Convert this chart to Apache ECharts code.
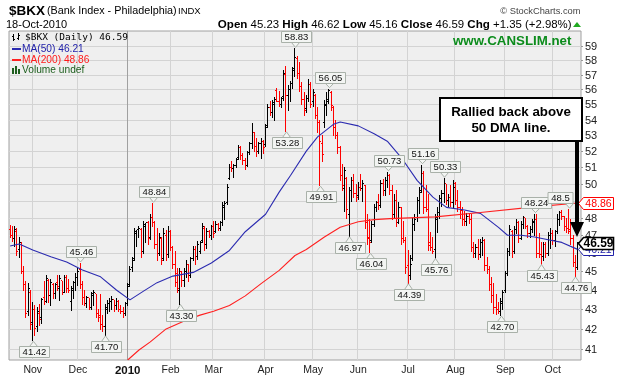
<!DOCTYPE html>
<html><head><meta charset="utf-8">
<script src="https://cdn.jsdelivr.net/npm/echarts@6/dist/echarts.min.js"></script>
<style>html,body{margin:0;padding:0;background:#fff}#c{width:617px;height:380px}</style>
</head><body><div id="c"></div>
<script>
// ---------- data ----------
const holidays = ['2009-11-26','2009-12-25','2010-01-01','2010-01-18','2010-02-15','2010-04-02','2010-05-31','2010-07-05','2010-09-06'];
const firstDay = '2009-10-19';
const lastDay = '2010-10-18';
// daily [open, high, low, close]
const ohlc = [
[47.3,47.6,46.9,47.0],[47.0,47.5,46.7,46.8],[46.8,47.5,46.4,47.3],[47.2,47.4,45.9,46.1],[46.2,46.9,45.8,46.6],
[46.5,46.6,44.9,45.0],[45.0,45.3,44.0,44.3],[44.3,44.5,42.6,42.8],[42.9,44.4,42.7,44.1],[43.9,44.0,42.0,42.2],
[42.3,43.4,41.42,43.0],[43.0,43.2,41.7,42.0],[42.1,43.1,41.9,42.9],[42.8,43.3,42.2,42.5],[42.6,43.6,42.3,43.5],
[43.6,44.5,43.3,43.4],[43.4,44.8,43.4,44.6],[44.5,44.6,43.4,43.7],[43.7,44.6,43.2,44.4],[44.3,44.4,43.6,43.8],
[43.8,44.4,43.6,44.3],[44.4,44.8,44.0,44.2],[44.1,44.8,43.5,44.6],[44.5,44.5,43.8,43.9],[43.9,44.8,43.9,44.7],
[44.7,44.8,43.9,44.1],[44.1,44.6,43.9,44.0],[43.4,44.2,42.96,44.1],[44.0,44.5,43.6,44.4],[44.4,44.9,44.0,44.7],
[44.7,45.2,44.3,45.0],[45.1,45.46,44.1,44.3],[44.3,44.5,43.3,43.6],[43.6,44.0,43.2,43.3],[43.3,43.7,43.1,43.6],
[43.6,43.6,43.0,43.1],[43.1,43.9,43.0,43.8],[43.7,44.0,43.2,43.9],[43.8,43.8,42.6,42.8],[42.8,43.0,42.4,42.6],
[42.7,43.8,42.0,42.2],[42.2,42.7,41.9,42.1],[42.1,43.3,41.70,43.1],[43.0,43.5,42.8,43.3],[43.3,43.6,42.9,43.4],
[43.4,43.7,43.0,43.5],[43.5,43.5,42.9,43.2],[43.2,43.6,43.0,43.4],[43.4,43.5,42.9,43.0],[43.0,43.2,42.8,42.9],
[42.9,43.1,42.6,42.8],[42.8,43.4,42.7,43.3],[43.3,44.4,43.2,44.2],[44.3,45.3,44.2,45.1],[45.2,45.8,45.0,45.6],
[45.7,47.4,45.6,47.2],[47.1,47.3,46.4,47.3],[47.3,47.5,46.9,47.4],[47.3,47.4,45.8,46.1],[46.1,47.8,46.0,47.6],
[47.5,47.7,46.6,47.7],[47.7,47.8,46.5,46.8],[46.9,48.2,46.8,48.0],[48.0,48.84,47.5,47.7],[47.7,47.8,46.3,46.5],
[46.5,47.4,45.6,46.0],[46.0,47.1,45.9,46.9],[46.8,46.9,45.4,45.6],[45.7,47.4,45.6,47.1],[47.0,47.3,45.6,45.9],
[45.9,47.5,45.8,47.2],[47.2,47.3,46.2,46.3],[46.3,46.4,45.2,45.4],[45.4,46.1,44.2,44.4],[44.9,45.2,43.9,44.1],
[44.0,45.2,43.30,45.0],[45.0,45.0,44.2,44.5],[44.5,45.2,44.2,45.0],[45.0,45.6,44.7,45.4],[45.4,45.4,44.5,44.8],
[44.8,45.8,44.7,45.7],[45.7,46.4,45.6,46.2],[46.2,46.4,45.4,45.8],[45.8,46.7,45.7,46.5],[46.1,46.7,46.0,46.6],
[46.7,47.7,46.6,47.5],[47.4,47.5,46.2,46.5],[46.5,47.4,46.3,47.2],[47.2,47.3,46.9,47.0],[47.0,47.6,46.8,47.5],
[47.5,47.8,46.9,47.1],[47.2,47.8,47.2,47.6],[47.6,47.7,47.3,47.4],[47.4,47.8,47.3,47.7],[47.7,48.9,47.6,48.7],
[48.6,49.0,47.9,48.8],[48.9,50.0,48.8,49.8],[50.3,51.2,50.3,51.0],[51.0,51.4,50.8,50.9],[50.9,51.2,50.4,51.1],
[51.1,51.6,51.0,51.5],[51.6,52.4,51.5,52.2],[52.2,52.3,51.5,51.7],[51.7,51.9,51.2,51.4],[51.4,51.6,50.9,51.1],
[51.1,52.0,51.1,51.9],[51.9,52.6,51.8,52.5],[52.5,53.8,52.2,53.2],[53.2,53.2,52.0,52.3],[52.3,52.8,51.7,52.0],
[52.0,52.6,51.9,52.5],[52.5,52.8,51.6,52.6],[52.6,52.7,51.9,52.2],[52.4,53.7,52.3,53.5],[53.6,55.0,53.5,54.8],
[54.8,55.2,54.3,54.5],[54.5,55.3,54.2,55.1],[55.0,55.5,54.0,55.3],[55.9,56.1,55.2,55.2],[55.2,55.9,54.9,55.0],
[55.0,55.5,54.8,55.4],[55.5,57.3,55.3,57.1],[57.0,57.6,53.28,55.6],[55.6,56.3,54.6,56.0],[56.0,56.6,55.2,56.4],
[56.4,57.5,56.1,57.3],[57.4,58.83,56.9,58.2],[58.1,58.3,56.8,57.1],[57.1,57.9,55.9,56.2],[56.2,56.5,55.0,55.3],
[55.3,55.8,54.3,54.6],[54.7,55.6,54.5,55.4],[55.4,56.7,55.2,56.3],[56.3,56.5,54.8,55.0],[55.2,56.0,54.9,55.8],
[55.6,55.7,54.1,54.3],[54.3,54.8,53.2,53.8],[53.8,54.0,49.91,52.6],[52.5,53.0,51.4,51.8],[53.8,55.3,53.5,55.0],
[54.9,55.8,54.3,55.2],[55.3,56.05,55.1,55.9],[55.8,55.9,54.6,54.9],[54.8,54.9,53.0,53.5],[53.5,54.0,52.8,53.0],
[53.0,53.2,51.9,52.2],[52.2,52.3,50.2,50.5],[50.5,51.2,49.6,49.9],[49.7,51.0,48.4,50.8],[50.3,50.4,48.0,48.5],
[48.2,49.8,46.97,49.6],[49.6,50.4,49.0,50.2],[50.2,50.6,49.2,49.4],[49.4,50.0,49.0,49.2],[49.3,50.1,49.1,49.8],
[49.8,50.6,49.6,49.7],[49.7,50.2,49.0,50.0],[49.9,49.9,47.4,47.7],[47.7,48.2,46.5,46.8],[46.9,47.9,46.04,46.6],
[46.7,47.8,46.6,47.6],[47.6,48.8,47.5,48.6],[48.6,49.0,48.4,48.9],[48.9,49.4,48.5,48.7],[48.7,50.2,48.6,50.0],
[50.0,50.3,49.3,49.6],[49.6,50.4,49.3,50.2],[50.2,50.73,49.8,50.5],[50.5,50.6,49.4,49.6],[49.6,49.9,47.9,48.2],
[48.2,49.4,48.0,49.0],[49.0,49.6,47.5,47.7],[47.7,48.9,47.7,48.6],[48.6,48.6,46.5,46.8],[46.8,47.8,46.6,46.7],
[46.7,46.9,44.9,45.2],[45.3,46.2,44.39,44.8],[44.8,45.9,44.6,45.4],[45.7,48.0,45.6,47.6],[47.6,48.2,47.3,47.9],
[48.0,49.2,47.8,49.0],[49.0,49.8,48.3,49.5],[49.6,51.16,49.5,50.6],[50.6,50.8,48.3,48.6],[48.6,49.9,48.4,48.5],
[48.5,49.4,46.2,46.4],[46.6,47.2,46.2,46.3],[46.3,46.9,46.0,46.1],[46.2,48.2,45.76,48.0],[47.9,48.6,47.2,48.3],
[48.3,49.3,48.0,49.1],[49.1,49.6,48.7,49.4],[49.4,50.33,48.9,50.0],[50.0,50.0,48.8,49.0],[49.0,49.4,48.7,49.2],
[49.2,49.9,48.7,48.9],[48.9,50.2,48.6,49.8],[50.0,50.1,48.8,49.0],[49.0,49.6,48.4,48.6],[48.6,49.0,48.0,48.4],
[48.4,48.6,47.6,47.9],[47.9,48.4,47.6,47.8],[47.8,48.3,47.6,48.1],[48.1,48.3,47.7,47.9],[47.9,48.2,46.1,46.3],
[46.3,46.6,45.8,46.0],[46.0,46.5,45.8,46.3],[46.3,46.8,45.7,45.9],[45.9,46.8,45.8,46.6],[46.6,46.9,45.9,46.7],
[46.7,46.8,45.1,45.3],[45.3,45.8,44.9,45.1],[45.1,45.3,44.0,44.3],[44.3,44.7,43.4,43.7],[43.7,44.4,42.8,43.1],
[43.1,43.8,42.75,43.0],[43.0,43.4,42.8,42.9],[42.9,43.6,42.70,43.4],[43.3,44.0,43.0,43.9],[44.0,45.0,43.9,44.9],
[44.9,46.3,44.8,46.1],[46.1,47.6,45.9,47.3],[47.2,47.3,45.8,46.1],[46.1,47.5,46.0,47.3],[47.3,47.9,47.1,47.7],
[47.7,47.8,46.6,46.8],[46.8,47.8,46.8,47.6],[47.6,48.1,47.4,48.0],[48.0,48.0,47.4,47.5],[47.5,47.6,46.9,47.1],
[47.1,47.5,46.9,47.3],[47.3,47.9,47.2,47.8],[47.7,48.24,47.0,47.9],[47.9,48.2,45.8,46.0],[46.0,47.1,45.8,45.9],
[45.9,46.6,45.43,45.8],[45.8,46.6,45.6,46.5],[46.5,46.6,45.8,46.0],[46.0,47.2,45.9,47.0],[47.0,47.4,46.3,47.1],
[47.1,47.3,46.5,46.7],[46.7,47.3,46.4,47.2],[47.2,48.2,47.1,47.9],[47.9,48.4,47.6,48.3],[48.3,48.45,47.9,48.1],
[48.1,48.1,47.3,47.5],[47.5,48.0,47.2,47.4],[47.4,48.5,47.1,47.2],[47.3,47.9,46.5,46.8],[46.8,47.0,45.3,45.5],
[45.5,45.9,44.76,45.24],[45.23,46.62,45.16,46.59]
];
// moving averages: [bar index, value]
const ma50Points = [[0,46.40],[4,46.51],[10,46.18],[18,45.80],[25,45.52],[32,45.08],[40,44.71],[47,44.01],[53,43.49],[59,43.95],[65,44.40],[72,44.75],[81,44.95],[89,45.46],[97,46.15],[104,47.2],[113,48.2],[119,49.5],[124,50.5],[131,52.0],[136,52.9],[143,53.7],[146,53.85],[154,53.6],[161,53.1],[167,52.6],[173,51.6],[180,50.2],[187,49.2],[193,48.6],[201,48.45],[208,48.25],[216,47.45],[220,47.0],[226,47.0],[232,46.9],[238,46.75],[244,46.6],[251,46.21]];
const ma200Points = [[52,40.46],[57,40.95],[62,41.35],[69,42.0],[78,42.45],[84,42.7],[90,42.9],[97,43.2],[104,43.7],[111,44.35],[119,45.06],[126,45.87],[131,46.2],[139,46.9],[146,47.45],[154,47.77],[161,47.89],[168,47.95],[188,48.05],[208,48.3],[232,48.63],[251,48.86]];
const peakLabels = [[31,'45.46'],[63,'48.84'],[126,'58.83'],[141,'56.05'],[167,'50.73'],[182,'51.16'],[192,'50.33'],[232,'48.24'],[247,'48.5']];
const troughLabels = [[10,'41.42'],[42,'41.70'],[75,'43.30'],[122,'53.28'],[137,'49.91'],[150,'46.97'],[159,'46.04'],[176,'44.39'],[188,'45.76'],[217,'42.70'],[235,'45.43'],[250,'44.76']];
const priceTicks = [41,42,43,44,45,46,47,48,49,50,51,52,53,54,55,56,57,58,59];
const monthAbbr = ['Jan','Feb','Mar','Apr','May','Jun','Jul','Aug','Sep','Oct','Nov','Dec'];
const lastTags = [['48.86','#ff0000'],['46.21','#2222aa'],['46.59','#000000']];

// ---------- build ----------
const dates = [];
for (let t = Date.parse(firstDay + 'T00:00:00Z'); t <= Date.parse(lastDay + 'T00:00:00Z'); t += 86400000) {
  const d = new Date(t), wd = d.getUTCDay(), s = d.toISOString().slice(0, 10);
  if (wd !== 0 && wd !== 6 && holidays.indexOf(s) < 0) dates.push(s);
}
const categories = dates.concat(['']);
const monthStart = dates.map((s, i) => i > 0 && s.slice(5, 7) !== dates[i - 1].slice(5, 7));
const monthIdx = [];
monthStart.forEach((m, i) => { if (m) monthIdx.push([i, 50]); });
const valueLabels = peakLabels.map(a => [a[0], a[1], 1]).concat(troughLabels.map(a => [a[0], a[1], -1]));

const F = '"Liberation Sans", Arial, sans-serif';
const chart = echarts.init(document.getElementById('c'), null, {renderer: 'canvas'});

function onTop(list, z) { return list.map(e => Object.assign({z: z}, e)); }

const legendEls = onTop([
  {type: 'line', shape: {x1: 13.5, y1: 34, x2: 13.5, y2: 41}, style: {stroke: '#000', lineWidth: 1}},
  {type: 'line', shape: {x1: 12, y1: 36.5, x2: 13.5, y2: 36.5}, style: {stroke: '#000', lineWidth: 1}},
  {type: 'line', shape: {x1: 13.5, y1: 39.5, x2: 15, y2: 39.5}, style: {stroke: '#000', lineWidth: 1}},
  {type: 'line', shape: {x1: 18.5, y1: 33, x2: 18.5, y2: 40}, style: {stroke: '#000', lineWidth: 1}},
  {type: 'line', shape: {x1: 17, y1: 38.5, x2: 18.5, y2: 38.5}, style: {stroke: '#000', lineWidth: 1}},
  {type: 'line', shape: {x1: 18.5, y1: 35.5, x2: 20, y2: 35.5}, style: {stroke: '#000', lineWidth: 1}},
  {type: 'text', x: 25, y: 37.5, style: {text: '$BKX (Daily) 46.59', font: '9.5px "DejaVu Sans Mono", monospace', fill: '#000', verticalAlign: 'middle'}},
  {type: 'rect', shape: {x: 12, y: 48, width: 9, height: 2}, style: {fill: '#2b2bb0'}},
  {type: 'text', x: 22, y: 49.5, style: {text: 'MA(50) 46.21', font: '10.2px ' + F, fill: '#2222aa', verticalAlign: 'middle'}},
  {type: 'rect', shape: {x: 12, y: 59, width: 9, height: 2}, style: {fill: '#ff2020'}},
  {type: 'text', x: 22, y: 60.5, style: {text: 'MA(200) 48.86', font: '10.2px ' + F, fill: '#ff1a1a', verticalAlign: 'middle'}},
  {type: 'rect', shape: {x: 12, y: 68, width: 2, height: 6}, style: {fill: '#1d5e1d'}},
  {type: 'rect', shape: {x: 15, y: 66, width: 2, height: 8}, style: {fill: '#1d5e1d'}},
  {type: 'rect', shape: {x: 18, y: 69, width: 2, height: 5}, style: {fill: '#1d5e1d'}},
  {type: 'text', x: 22, y: 70.5, style: {text: 'Volume undef', font: '10.2px ' + F, fill: '#1d5e1d', verticalAlign: 'middle'}},
  {type: 'text', x: 453, y: 41, style: {text: 'www.CANSLIM.net', font: 'bold 13.3px ' + F, fill: '#0c8c1c', verticalAlign: 'middle'}}
], 20);

const noteEls = onTop([
  {type: 'rect', shape: {x: 440, y: 98, width: 142, height: 43}, style: {fill: '#ffffff', stroke: '#000', lineWidth: 2}},
  {type: 'rect', shape: {x: 575, y: 141, width: 4, height: 83}, style: {fill: '#000'}},
  {type: 'polygon', shape: {points: [[570, 222], [584, 222], [577, 237]]}, style: {fill: '#000'}}
], 30).concat(onTop([
  {type: 'text', x: 511, y: 112.5, style: {text: 'Rallied back above', font: 'bold 13.3px ' + F, fill: '#000', align: 'center', verticalAlign: 'middle'}},
  {type: 'text', x: 511, y: 128.5, style: {text: '50 DMA line.', font: 'bold 13.3px ' + F, fill: '#000', align: 'center', verticalAlign: 'middle'}}
], 31));

const option = {
  animation: false,
  backgroundColor: '#ffffff',
  grid: {left: 9, right: 36, top: 31, bottom: 20, show: true, backgroundColor: '#efefef', borderColor: '#a0a0a0', borderWidth: 1},
  xAxis: {
    type: 'category', data: categories, boundaryGap: true,
    axisLine: {show: false}, axisTick: {show: false}, splitLine: {show: false},
    axisLabel: {
      interval: (i) => !!monthStart[i],
      formatter: (v) => { const m = +v.slice(5, 7); return m === 1 ? '{y|' + v.slice(0, 4) + '}' : monthAbbr[m - 1]; },
      fontSize: 10.5, fontFamily: F, color: '#222', margin: 5,
      rich: {y: {fontWeight: 'bold', fontSize: 11.5, fontFamily: F, color: '#111'}}
    }
  },
  yAxis: {type: 'log', logBase: 10, min: 40.46, max: 60.07, show: false},
  series: [
    { // horizontal grid lines + right-side price labels
      type: 'custom', z: 1, silent: true, clip: false,
      data: priceTicks.map(v => [0, v]), encode: {x: 0, y: 1},
      renderItem: (params, api) => {
        const cs = params.coordSys;
        const y = Math.round(api.coord([0, api.value(1)])[1]) + 0.5;
        const xr = cs.x + cs.width;
        return {type: 'group', children: [
          {type: 'line', shape: {x1: cs.x, y1: y, x2: xr, y2: y}, style: {stroke: '#d3d3d3', lineWidth: 1}},
          {type: 'line', shape: {x1: xr, y1: y, x2: xr + 2, y2: y}, style: {stroke: '#999', lineWidth: 1}},
          {type: 'text', x: xr + 4, y: y, style: {text: String(api.value(1)), fill: '#222', font: '11px ' + F, align: 'left', verticalAlign: 'middle'}}
        ]};
      }
    },
    { // vertical month grid lines
      type: 'custom', z: 1, silent: true, clip: true,
      data: monthIdx, encode: {x: 0, y: 1},
      renderItem: (params, api) => {
        const cs = params.coordSys;
        const i = api.value(0);
        const bw = api.size([1, 0])[0];
        const x = Math.round(api.coord([i, 50])[0] - bw / 2) + 0.5;
        const isYear = dates[i].slice(5, 7) === '01';
        return {type: 'line', shape: {x1: x, y1: cs.y, x2: x, y2: cs.y + cs.height}, style: {stroke: isYear ? '#a0a0a0' : '#d3d3d3', lineWidth: 1}};
      }
    },
    { // OHLC bars
      type: 'custom', name: '$BKX', z: 3, clip: true,
      data: ohlc.map((r, i) => [i, r[0], r[1], r[2], r[3], (i === 0 ? r[3] < r[0] : r[3] < ohlc[i - 1][3]) ? 1 : 0]),
      encode: {x: 0, y: [1, 2, 3, 4]},
      renderItem: (params, api) => {
        const i = api.value(0);
        const o = api.coord([i, api.value(1)]), h = api.coord([i, api.value(2)]);
        const l = api.coord([i, api.value(3)]), c = api.coord([i, api.value(4)]);
        const k = Math.round(h[0] - 0.5);
        const col = api.value(5) ? '#ff0000' : '#000000';
        const st = {stroke: col, lineWidth: 1};
        const yo = Math.round(o[1] - 0.5) + 0.5, yc = Math.round(c[1] - 0.5) + 0.5;
        return {type: 'group', children: [
          {type: 'line', shape: {x1: k + 0.5, y1: Math.round(h[1]), x2: k + 0.5, y2: Math.round(l[1]) + 1}, style: st},
          {type: 'line', shape: {x1: k - 1, y1: yo, x2: k, y2: yo}, style: st},
          {type: 'line', shape: {x1: k + 1, y1: yc, x2: k + 2, y2: yc}, style: st}
        ]};
      }
    },
    {type: 'line', name: 'MA(50)', data: ma50Points, showSymbol: false, symbol: 'none', z: 4, silent: true,
     lineStyle: {color: '#2b2bb0', width: 1.1}},
    {type: 'line', name: 'MA(200)', data: ma200Points, showSymbol: false, symbol: 'none', z: 4, silent: true,
     lineStyle: {color: '#ff2020', width: 1.1}},
    { // high / low value callouts
      type: 'custom', z: 5, silent: true, clip: false,
      data: valueLabels.map(a => [a[0], parseFloat(a[1]), a[2]]), encode: {x: 0, y: 1},
      renderItem: (params, api) => {
        const cs = params.coordSys;
        const a = valueLabels[params.dataIndex];
        const t = a[1], d = a[2];
        const p = api.coord([a[0], parseFloat(t)]);
        const cx = Math.round(p[0]) + 0.5;
        const w = Math.round(t.length * 5.0 + 5), hh = 11, gap = 6;
        const top = d > 0 ? Math.round(p[1] - gap - hh) + 0.5 : Math.round(p[1] + gap) + 0.5;
        let left = Math.round(cx - w / 2) + 0.5;
        if (d > 0) left = Math.min(left, cs.x + cs.width - 8 - w);
        const tipY = d > 0 ? p[1] - 1 : p[1] + 1;
        const baseY = d > 0 ? top + hh : top;
        return {type: 'group', children: [
          {type: 'polygon', shape: {points: [[cx - 4, baseY], [cx + 4, baseY], [cx, tipY]]}, style: {fill: '#f3f5f3', stroke: '#a9b1a9', lineWidth: 1}},
          {type: 'rect', shape: {x: left, y: top, width: w, height: hh}, style: {fill: '#f3f5f3', stroke: '#a9b1a9', lineWidth: 1}},
          {type: 'text', x: left + w / 2, y: top + hh / 2 + 0.5, style: {text: t, fill: '#111', font: '9.5px ' + F, align: 'center', verticalAlign: 'middle'}}
        ]};
      }
    },
    { // last-value tags on right axis
      type: 'custom', z: 6, silent: true, clip: false,
      data: lastTags.map(a => [251, parseFloat(a[0])]), encode: {x: 0, y: 1},
      renderItem: (params, api) => {
        const cs = params.coordSys;
        const a = lastTags[params.dataIndex];
        const y = Math.round(api.coord([0, parseFloat(a[0])])[1]) + 0.5;
        const x0 = cs.x + cs.width + 0.5;
        const hh = 12, isMain = a[1] === '#000000';
        return {type: 'group', children: [
          {type: 'polygon', shape: {points: [[x0 - 3, y], [x0 + 2, y - hh / 2], [x0 + 32, y - hh / 2], [x0 + 32, y + hh / 2], [x0 + 2, y + hh / 2]]},
           style: {fill: '#ffffff', stroke: a[1], lineWidth: isMain ? 1.6 : 1}},
          {type: 'text', x: x0 + 17, y: y + 0.5, style: {text: a[0], fill: a[1], font: (isMain ? 'bold 12px ' : '10.5px ') + F, align: 'center', verticalAlign: 'middle'}}
        ]};
      }
    }
  ],
  graphic: [
    {type: 'text', x: 9, y: 11, style: {text: '$BKX', font: 'bold 13.5px ' + F, fill: '#000', verticalAlign: 'middle'}},
    {type: 'text', x: 47, y: 11.5, style: {text: '(Bank Index - Philadelphia)', font: '10.8px ' + F, fill: '#000', verticalAlign: 'middle'}},
    {type: 'text', x: 178, y: 11.5, style: {text: 'INDX', font: '9.5px ' + F, fill: '#000', verticalAlign: 'middle'}},
    {type: 'text', x: 6, y: 24.5, style: {text: '18-Oct-2010', font: '11px ' + F, fill: '#000', verticalAlign: 'middle'}},
    {type: 'text', x: 580.5, y: 11, style: {text: '\u00A9 StockCharts.com', font: '9.3px ' + F, fill: '#444', align: 'right', verticalAlign: 'middle'}},
    {type: 'text', x: 571.5, y: 24.5, style: {
      text: '{b|Open} 45.23 {b|High} 46.62 {b|Low} 45.16 {b|Close} 46.59 {b|Chg} +1.35 (+2.98%)',
      font: '11.4px ' + F, fill: '#000', align: 'right', verticalAlign: 'middle',
      rich: {b: {fontWeight: 'bold', fontSize: 11.6, fontFamily: F, fill: '#000'}}}},
    {type: 'polygon', shape: {points: [[573, 27], [581, 27], [577, 22]]}, style: {fill: '#22aa22'}}
  ].concat(legendEls, noteEls)
};
chart.setOption(option);
</script>
</body></html>
